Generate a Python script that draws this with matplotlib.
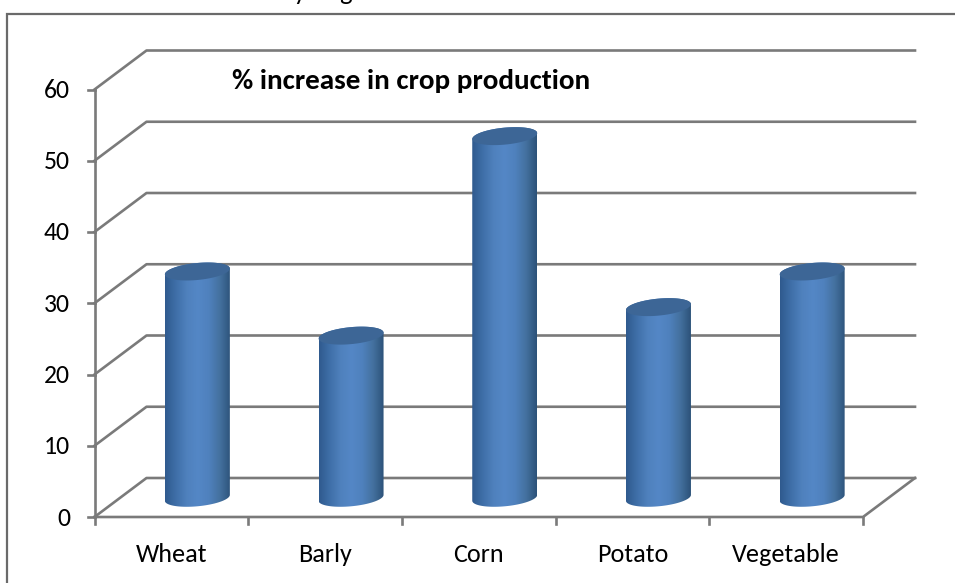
import matplotlib
matplotlib.use('Agg')
import matplotlib.pyplot as plt
import numpy as np
from matplotlib.path import Path
from matplotlib.patches import PathPatch
from matplotlib.colors import LinearSegmentedColormap

categories = ['Wheat', 'Barly', 'Corn', 'Potato', 'Vegetable']
increase = [32, 23, 51, 27, 32]
y_ticks = [0, 10, 20, 30, 40, 50, 60]
title = '% increase in crop production'

W, H = 955, 583
plt.rcParams['font.family'] = ['Carlito', 'Open Sans', 'DejaVu Sans']

fig = plt.figure(figsize=(W / 100, H / 100), dpi=100)

# plot area of the front plane, in pixels
left, right, top, bottom = 94.5, 863, 89.5, 517
ax = fig.add_axes([left / W, 1 - bottom / H, (right - left) / W, (bottom - top) / H])
ax.patch.set_visible(False)
for s in ax.spines.values():
    s.set_visible(False)
ax.set_xticks([])
ax.set_yticks([])

sx = 5 / (right - left)      # data per pixel
sy = 60 / (bottom - top)
depth_x, depth_y = 52 * sx, 39 * sy
grey = '#7a7a7a'


def line(xs, ys, lw=1.9):
    ax.plot(xs, ys, color=grey, lw=lw, clip_on=False, solid_capstyle='projecting', zorder=1)


# back wall lines, side wall, floor and ticks
for t in y_ticks:
    line([-0.5, -0.5 + depth_x, 4.5 + depth_x], [t, t + depth_y, t + depth_y])
    line([-0.5 - 7 * sx, -0.5], [t, t])
line([-0.5, -0.5], [0, 60])
line([-0.5, 4.5, 4.5 + depth_x], [0, 0, depth_y])
for k in range(6):
    line([-0.5 + k, -0.5 + k], [0, -7 * sy])

cmap = LinearSegmentedColormap.from_list('cyl', ['#2f5a8e', '#3f6fa8', '#4f81bd', '#5487c6',
                                                 '#4f81bd', '#44719f', '#2c5279'])
grad = np.linspace(0, 1, 256).reshape(1, -1)
half_w, half_h = 32.5 * sx, 8.5 * sy
tilt = 0.09   # slope of the ellipse axis
top_drop = 2 * sy
base = depth_y / 2 - 0.3 * sy


def ellipse_pts(cx, cy, start, stop):
    a = np.radians(np.linspace(start, stop, 60))
    return (cx + half_w * np.cos(a),
            cy + half_h * np.sin(a) + tilt * 32.5 * sy * np.cos(a))


for i, v in enumerate(increase):
    cx = i + depth_x / 2
    ytop = depth_y / 2 + v - top_drop
    # cylinder side: bottom arc then top arc, filled with a horizontal gradient
    xb, yb = ellipse_pts(cx, base, 180, 360)
    xt, yt = ellipse_pts(cx, ytop, 0, 180)
    verts = np.column_stack([np.r_[xb, xt], np.r_[yb, yt]])
    outline = PathPatch(Path(np.vstack([verts, verts[0]]), closed=True), transform=ax.transData,
                        fc='none', ec='none')
    ax.add_patch(outline)
    im = ax.imshow(grad, cmap=cmap, aspect='auto', zorder=3,
                   extent=[cx - half_w, cx + half_w, base - half_h * 1.5, ytop + half_h * 1.5])
    im.set_clip_path(outline)
    xc, yc = ellipse_pts(cx, ytop, 0, 360)
    ax.fill(xc, yc, color='#3d6696', zorder=4, clip_on=False, lw=0)

ax.set_xlim(-0.5, 4.5)
ax.set_ylim(0, 60)

for t in y_ticks:
    ax.text(-0.5 - 24.5 * sx, t - 1 * sy, str(t), ha='right', va='center', fontsize=18.5, color='black')
for i, c in enumerate(categories):
    ax.text(i, -37 * sy, c, ha='center', va='center', fontsize=18.8, color='black', clip_on=False)
fig.text(411 / W, 1 - 81 / H, title, ha='center', va='center', fontsize=21, fontweight='bold')

# tail of the line of text above the frame
fig.text(300 / W, 1, 'y', ha='center', va='baseline', fontsize=19)
fig.text(345 / W, 1, 'g', ha='center', va='baseline', fontsize=19)

# outer frame
fig.add_artist(plt.Rectangle((7 / W, -0.02), 1.1, 1 - 14 / H + 0.02, transform=fig.transFigure,
                             fc='none', ec='#6a6a6a', lw=1.6))
fig.savefig('out.png', dpi=100)
